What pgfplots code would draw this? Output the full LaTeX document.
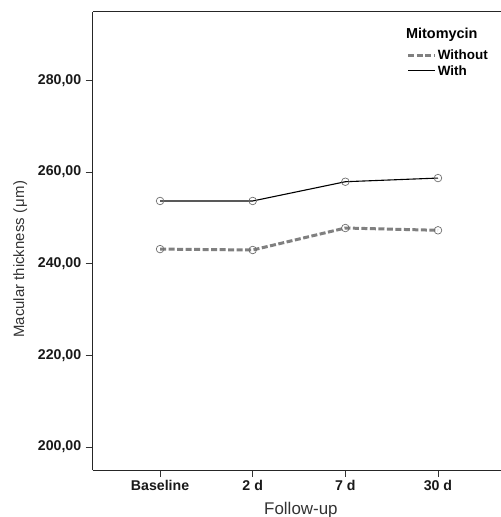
\documentclass[border=0pt]{standalone}
\usepackage{pgfplots}
\pgfplotsset{compat=1.18}
\usepackage{fontspec}
\setmainfont{Liberation Sans}
\definecolor{dgray}{RGB}{128,128,128}
\definecolor{mgray}{RGB}{110,110,110}
\begin{document}
\begin{tikzpicture}
\begin{axis}[
  scale only axis, width=408.3bp, height=458.3bp,
  xmin=-0.727, xmax=3.68, ymin=195, ymax=295,
  axis x line*=box, axis y line*=left,
  axis line style={line width=0.9bp, color=black!85},
  xtick={0,1,2,3}, xticklabels={Baseline,2 d,7 d,30 d},
  ytick={200,220,240,260,280},
  xtick pos=bottom, ytick pos=left,
  tick align=outside, major tick length=7bp,
  tick style={line width=0.8bp, color=black!80},
  /pgf/number format/.cd, fixed, fixed zerofill, precision=2, use comma, assume math mode=true, 1000 sep={},
  /pgfplots/.cd,
  ticklabel style={font=\bfseries\fontsize{14.2}{16}\selectfont, text=black!90},
  yticklabel style={xshift=-1bp},
  xlabel={Follow-up},
  ylabel={Macular thickness (\kern1bp μ\kern1bp m)},
  xlabel style={at={(axis description cs:0.51,-0.088)}, anchor=center, font=\fontsize{17}{19}\selectfont, text=black!80},
  ylabel style={at={(axis description cs:-0.1776,0.46)}, anchor=center, font=\fontsize{15}{17}\selectfont, text=black!80},
  legend style={draw=none, fill=none, at={(rel axis cs:0.769,0.92)}, anchor=north west,
     font=\bfseries\fontsize{13.5}{15}\selectfont, inner sep=0pt, row sep=2.5bp,
     nodes={inner sep=1bp}},
  legend cell align=left,
  legend image code/.code={\draw[#1] (0bp,0bp) -- (27bp,0bp);},
]
\addplot[dgray, line width=3bp, dash pattern=on 6bp off 2.5bp,
  mark=o, mark size=3.8bp, mark options={solid, draw=mgray, line width=0.7bp, fill=none}]
  coordinates {(0,243.2) (1,243.0) (2,247.8) (3,247.3)};
\addlegendentry{Without}
\addplot[black, line width=1.1bp,
  mark=o, mark size=3.8bp, mark options={solid, draw=mgray, line width=0.7bp, fill=none}]
  coordinates {(0,253.7) (1,253.7) (2,257.9) (3,258.7)};
\addlegendentry{With}
\node[anchor=west, inner sep=0pt, font=\bfseries\fontsize{14.5}{16}\selectfont] at (rel axis cs:0.767,0.949) {Mitomycin};
\coordinate (bl) at (rel axis cs:0,0);
\coordinate (tr) at (rel axis cs:1,1);
\end{axis}
\pgfresetboundingbox
\path ([shift={(-92.7bp,-47bp)}]bl) rectangle ([shift={(0bp,11.7bp)}]tr);
\end{tikzpicture}
\end{document}
